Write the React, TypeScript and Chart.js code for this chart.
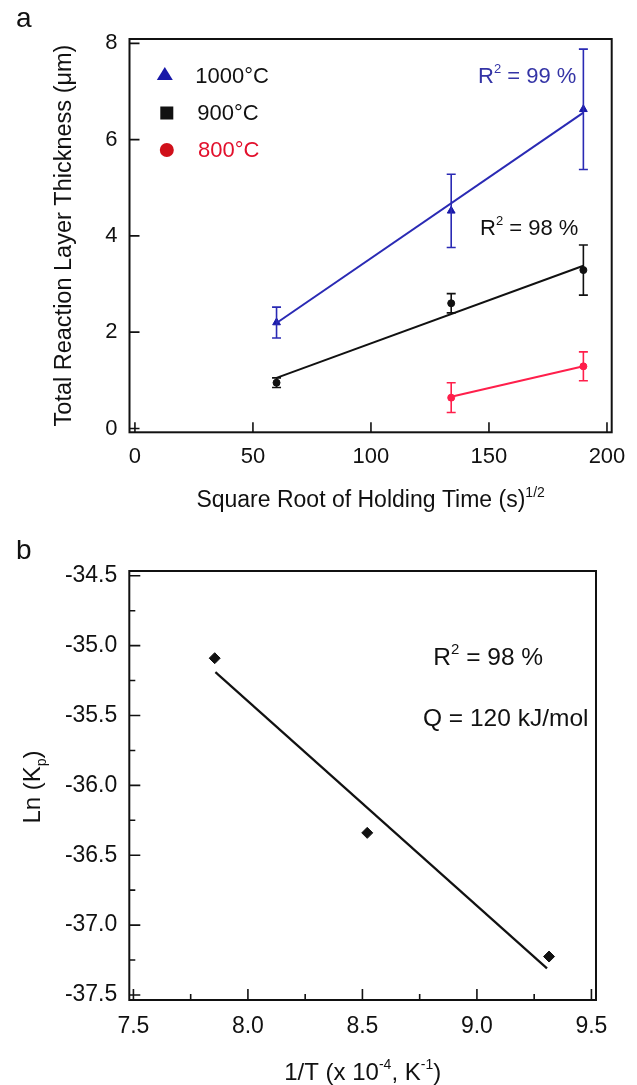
import React, { useEffect, useRef } from "react";
import { Chart, registerables } from "chart.js";
Chart.register(...registerables);

const FONT = '"Liberation Sans", Arial, Helvetica, sans-serif';

// ---------- Panel a data ----------
const holdTime = [60, 134, 190];
const thick1000 = [2.2, 4.52, 6.63];
const err1000 = [0.32, 0.76, 1.25];
const thick900 = [0.95, 2.6, 3.29];
const err900 = [0.1, 0.2, 0.52];
const holdTime800 = [134, 190];
const thick800 = [0.64, 1.29];
const err800 = [0.31, 0.3];
const fitX = [60, 190];
const fit1000 = [2.19, 6.56];
const fit900 = [1.05, 3.38];
const fitX800 = [134, 190];
const fit800 = [0.66, 1.29];
const xTicksA = [0, 50, 100, 150, 200];
const yTicksA = [0, 2, 4, 6, 8];
const legendA = ["1000°C", "900°C", "800°C"];

// ---------- Panel b data ----------
const invT = [7.855, 8.521, 9.315];
const lnKp = [-35.09, -36.34, -37.225];
const fitInvT = [7.858, 9.306];
const fitLnKp = [-35.19, -37.31];
const xTicksB = [7.5, 8.0, 8.5, 9.0, 9.5];
const xMinorB = [7.75, 8.25, 8.75, 9.25];
const yTicksB = [-34.5, -35.0, -35.5, -36.0, -36.5, -37.0, -37.5];
const yMinorB = [-34.75, -35.25, -35.75, -36.25, -36.75, -37.25];

const BLUE = "#2a2ab4";
const BLUE_TXT = "#3434a6";
const BLUE_M = "#1818a8";
const RED = "#ff1f4b";
const RED_M = "#d0101a";
const RED_TXT = "#e2102c";
const BLACK = "#111111";

type Part = { t: string; s?: "sup" | "sub" };

function drawRich(
  ctx: CanvasRenderingContext2D,
  parts: Part[],
  x: number,
  y: number,
  size: number,
  color: string,
  align: "left" | "center" = "left"
) {
  ctx.save();
  ctx.fillStyle = color;
  ctx.textBaseline = "alphabetic";
  ctx.textAlign = "left";
  const small = Math.round(size * 0.6);
  let w = 0;
  for (const p of parts) {
    ctx.font = `${p.s ? small : size}px ${FONT}`;
    w += ctx.measureText(p.t).width;
  }
  let cx = align === "center" ? x - w / 2 : x;
  for (const p of parts) {
    ctx.font = `${p.s ? small : size}px ${FONT}`;
    const dy = p.s === "sup" ? -size * 0.45 : p.s === "sub" ? size * 0.25 : 0;
    ctx.fillText(p.t, cx, y + dy);
    cx += ctx.measureText(p.t).width;
  }
  ctx.restore();
}

function frameAndTicks(
  chart: any,
  xMajor: number[],
  xMinor: number[],
  yMajor: number[],
  yMinor: number[],
  majorLen: number,
  minorLen: number
) {
  const ctx: CanvasRenderingContext2D = chart.ctx;
  const { left, right, top, bottom } = chart.chartArea;
  const xs = chart.scales.x;
  const ys = chart.scales.y;
  ctx.save();
  ctx.strokeStyle = BLACK;
  ctx.lineWidth = 2;
  ctx.strokeRect(left, top, right - left, bottom - top);
  ctx.lineWidth = 1.6;
  ctx.beginPath();
  for (const v of xMajor) {
    const px = xs.getPixelForValue(v);
    ctx.moveTo(px, bottom);
    ctx.lineTo(px, bottom - majorLen);
  }
  for (const v of xMinor) {
    const px = xs.getPixelForValue(v);
    ctx.moveTo(px, bottom);
    ctx.lineTo(px, bottom - minorLen);
  }
  for (const v of yMajor) {
    const py = ys.getPixelForValue(v);
    ctx.moveTo(left, py);
    ctx.lineTo(left + majorLen, py);
  }
  for (const v of yMinor) {
    const py = ys.getPixelForValue(v);
    ctx.moveTo(left, py);
    ctx.lineTo(left + minorLen, py);
  }
  ctx.stroke();
  ctx.restore();
}

function errorBars(chart: any, xsArr: number[], ysArr: number[], errs: number[], color: string) {
  const ctx: CanvasRenderingContext2D = chart.ctx;
  const xs = chart.scales.x;
  const ys = chart.scales.y;
  ctx.save();
  ctx.strokeStyle = color;
  ctx.lineWidth = 1.6;
  ctx.beginPath();
  xsArr.forEach((x, i) => {
    const px = xs.getPixelForValue(x);
    const pTop = ys.getPixelForValue(ysArr[i] + errs[i]);
    const pBot = ys.getPixelForValue(ysArr[i] - errs[i]);
    ctx.moveTo(px, pTop);
    ctx.lineTo(px, pBot);
    ctx.moveTo(px - 4.5, pTop);
    ctx.lineTo(px + 4.5, pTop);
    ctx.moveTo(px - 4.5, pBot);
    ctx.lineTo(px + 4.5, pBot);
  });
  ctx.stroke();
  ctx.restore();
}

const tickFontA = { family: FONT, size: 22 };
const tickFontB = { family: FONT, size: 23 };

export default function App() {
  const refA = useRef<HTMLCanvasElement>(null);
  const refB = useRef<HTMLCanvasElement>(null);

  useEffect(() => {
    const pts = (xs: number[], ys: number[]) => xs.map((x, i) => ({ x, y: ys[i] }));

    const decorA = {
      id: "decorA",
      afterDatasetsDraw(chart: any) {
        errorBars(chart, holdTime, thick1000, err1000, BLUE);
        errorBars(chart, holdTime, thick900, err900, BLACK);
        errorBars(chart, holdTime800, thick800, err800, RED);
      },
      afterDraw(chart: any) {
        const ctx: CanvasRenderingContext2D = chart.ctx;
        frameAndTicks(chart, xTicksA, [], yTicksA, [], 10, 5);
        // legend
        ctx.save();
        ctx.fillStyle = BLUE_M;
        ctx.beginPath();
        ctx.moveTo(164.8, 67);
        ctx.lineTo(172.8, 80);
        ctx.lineTo(156.8, 80);
        ctx.closePath();
        ctx.fill();
        ctx.fillStyle = BLACK;
        ctx.fillRect(160.3, 106.5, 13, 13);
        ctx.fillStyle = RED_M;
        ctx.beginPath();
        ctx.arc(166.8, 150, 7, 0, Math.PI * 2);
        ctx.fill();
        ctx.restore();
        drawRich(ctx, [{ t: legendA[0] }], 195.3, 83, 22, BLACK);
        drawRich(ctx, [{ t: legendA[1] }], 197.3, 120, 22, BLACK);
        drawRich(ctx, [{ t: legendA[2] }], 198, 157, 22, RED_TXT);
        // annotations
        drawRich(ctx, [{ t: "R" }, { t: "2", s: "sup" }, { t: " = 99 %" }], 478, 83, 22, BLUE_TXT);
        drawRich(ctx, [{ t: "R" }, { t: "2", s: "sup" }, { t: " = 98 %" }], 480, 235, 22, BLACK);
        // axis titles
        drawRich(
          ctx,
          [{ t: "Square Root of Holding Time (s)" }, { t: "1/2", s: "sup" }],
          370.6,
          507,
          23,
          BLACK,
          "center"
        );
        ctx.save();
        ctx.translate(71, 235.5);
        ctx.rotate(-Math.PI / 2);
        drawRich(ctx, [{ t: "Total Reaction Layer Thickness (μm)" }], 0, 0, 23.5, BLACK, "center");
        ctx.restore();
        drawRich(ctx, [{ t: "a" }], 16, 27, 28, BLACK);
      },
    };

    const chartA = new Chart(refA.current!, {
      type: "scatter",
      data: {
        datasets: [
          { data: pts(fitX, fit1000), showLine: true, borderColor: BLUE, borderWidth: 2, pointRadius: 0 },
          { data: pts(fitX, fit900), showLine: true, borderColor: BLACK, borderWidth: 2, pointRadius: 0 },
          { data: pts(fitX800, fit800), showLine: true, borderColor: RED, borderWidth: 2, pointRadius: 0 },
          {
            data: pts(holdTime, thick1000),
            pointStyle: "triangle",
            pointRadius: 4.5,
            backgroundColor: BLUE_M,
            borderColor: BLUE_M,
          },
          {
            data: pts(holdTime, thick900),
            pointStyle: "circle",
            pointRadius: 3.5,
            backgroundColor: BLACK,
            borderColor: BLACK,
          },
          {
            data: pts(holdTime800, thick800),
            pointStyle: "circle",
            pointRadius: 3.5,
            backgroundColor: RED,
            borderColor: RED,
          },
        ],
      } as any,
      options: {
        animation: false,
        responsive: false,
        events: [],
        layout: { padding: { top: 39, right: 25.3, left: 0, bottom: 0 } },
        plugins: { legend: { display: false }, tooltip: { enabled: false } },
        scales: {
          x: {
            type: "linear",
            min: -2.3,
            max: 202,
            afterBuildTicks: (s: any) => {
              s.ticks = xTicksA.map((v) => ({ value: v }));
            },
            afterFit: (s: any) => {
              s.height = 107.7;
            },
            grid: { display: false, drawTicks: false },
            border: { display: false },
            ticks: {
              font: tickFontA,
              color: BLACK,
              padding: 11,
              maxRotation: 0,
              autoSkip: false,
              callback: (v: any) => String(v),
            },
          },
          y: {
            type: "linear",
            min: -0.08,
            max: 8.09,
            afterBuildTicks: (s: any) => {
              s.ticks = yTicksA.map((v) => ({ value: v }));
            },
            afterFit: (s: any) => {
              s.width = 129.5;
            },
            grid: { display: false, drawTicks: false },
            border: { display: false },
            ticks: {
              font: tickFontA,
              color: BLACK,
              padding: 12,
              autoSkip: false,
              callback: (v: any) => String(v),
            },
          },
        },
      } as any,
      plugins: [decorA],
    });

    const decorB = {
      id: "decorB",
      afterDraw(chart: any) {
        const ctx: CanvasRenderingContext2D = chart.ctx;
        frameAndTicks(chart, xTicksB, xMinorB, yTicksB, yMinorB, 11, 6);
        drawRich(ctx, [{ t: "R" }, { t: "2", s: "sup" }, { t: " = 98 %" }], 433.3, 125, 24.5, BLACK);
        drawRich(ctx, [{ t: "Q = 120 kJ/mol" }], 423, 186, 24.5, BLACK);
        drawRich(
          ctx,
          [{ t: "1/T (x 10" }, { t: "-4", s: "sup" }, { t: ", K" }, { t: "-1", s: "sup" }, { t: ")" }],
          362.7,
          540,
          24,
          BLACK,
          "center"
        );
        ctx.save();
        ctx.translate(40, 247);
        ctx.rotate(-Math.PI / 2);
        drawRich(ctx, [{ t: "Ln (K" }, { t: "p", s: "sub" }, { t: ")" }], 0, 0, 24, BLACK, "center");
        ctx.restore();
        drawRich(ctx, [{ t: "b" }], 16, 19, 28, BLACK);
      },
    };

    const chartB = new Chart(refB.current!, {
      type: "scatter",
      data: {
        datasets: [
          { data: pts(fitInvT, fitLnKp), showLine: true, borderColor: BLACK, borderWidth: 2.2, pointRadius: 0 },
          {
            data: pts(invT, lnKp),
            pointStyle: "rectRot",
            pointRadius: 5.5,
            backgroundColor: BLACK,
            borderColor: BLACK,
          },
        ],
      } as any,
      options: {
        animation: false,
        responsive: false,
        events: [],
        layout: { padding: { top: 31, right: 41, left: 0, bottom: 0 } },
        plugins: { legend: { display: false }, tooltip: { enabled: false } },
        scales: {
          x: {
            type: "linear",
            min: 7.482,
            max: 9.52,
            afterBuildTicks: (s: any) => {
              s.ticks = xTicksB.map((v) => ({ value: v }));
            },
            afterFit: (s: any) => {
              s.height = 85;
            },
            grid: { display: false, drawTicks: false },
            border: { display: false },
            ticks: {
              font: tickFontB,
              color: BLACK,
              padding: 13,
              maxRotation: 0,
              autoSkip: false,
              callback: (v: any) => Number(v).toFixed(1),
            },
          },
          y: {
            type: "linear",
            min: -37.536,
            max: -34.466,
            afterBuildTicks: (s: any) => {
              s.ticks = yTicksB.map((v) => ({ value: v }));
            },
            afterFit: (s: any) => {
              s.width = 129.3;
            },
            grid: { display: false, drawTicks: false },
            border: { display: false },
            ticks: {
              font: tickFontB,
              color: BLACK,
              padding: 12,
              autoSkip: false,
              callback: (v: any) => Number(v).toFixed(1),
            },
          },
        },
      } as any,
      plugins: [decorB],
    });

    return () => {
      chartA.destroy();
      chartB.destroy();
    };
  }, []);

  return (
    <div style={{ position: "absolute", left: 0, top: 0, width: 637, height: 1085, background: "#fff" }}>
      <canvas ref={refA} width={637} height={540} style={{ position: "absolute", left: 0, top: 0 }} />
      <canvas ref={refB} width={637} height={545} style={{ position: "absolute", left: 0, top: 540 }} />
    </div>
  );
}
